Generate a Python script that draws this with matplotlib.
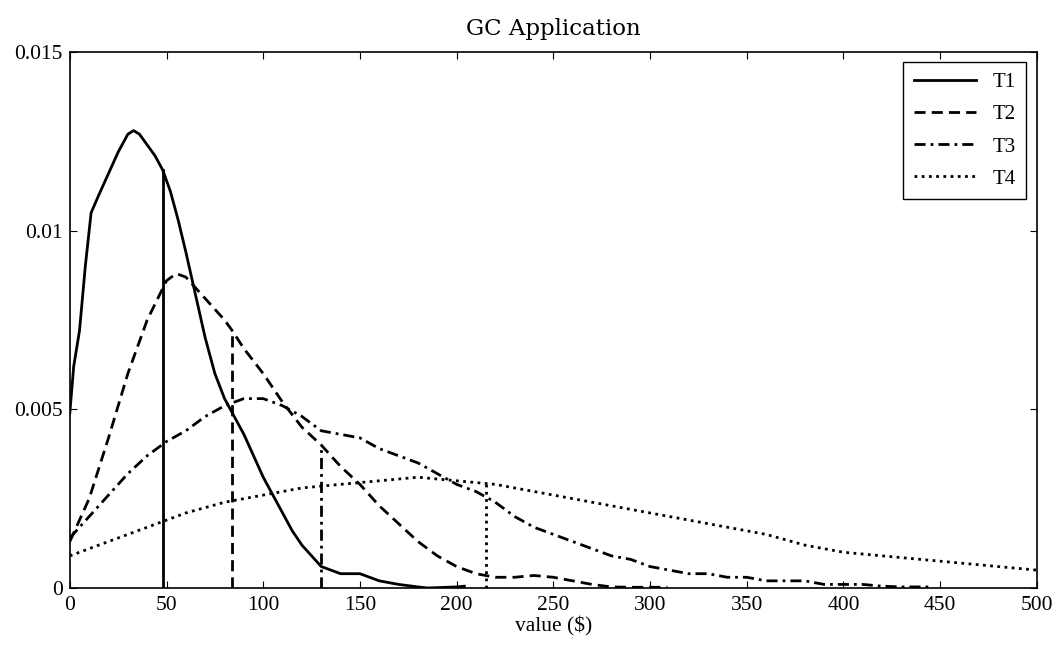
import numpy as np
import matplotlib
matplotlib.use("Agg")
import matplotlib.pyplot as plt

# density curves (value in $, density)
t1_x = [0, 2, 5, 8, 11, 15, 20, 25, 30, 33, 36, 40, 44, 48, 52, 56, 60, 65, 70, 75,
        80, 84, 90, 95, 100, 105, 110, 115, 120, 125, 130, 135, 140, 150, 155, 160,
        170, 180, 185, 190, 200, 204]
t1_y = [0.0049, 0.0062, 0.0072, 0.0090, 0.0105, 0.0110, 0.0116, 0.0122, 0.0127, 0.0128,
        0.0127, 0.0124, 0.0121, 0.0117, 0.0111, 0.0103, 0.0094, 0.0082, 0.0070, 0.0060,
        0.0053, 0.0049, 0.0043, 0.0037, 0.0031, 0.0026, 0.0021, 0.0016, 0.0012, 0.0009,
        0.0006, 0.0005, 0.0004, 0.0004, 0.0003, 0.0002, 0.0001, 0.00003, 0.0, 0.00001,
        0.00003, 0.00005]

t2_x = [0, 10, 20, 30, 40, 50, 55, 60, 70, 80, 84, 90, 100, 110, 120, 130, 140, 150,
        160, 170, 180, 190, 200, 210, 220, 230, 240, 250, 260, 270, 280, 290, 300, 309]
t2_y = [0.0013, 0.0025, 0.0042, 0.0060, 0.0075, 0.0086, 0.0088, 0.0087, 0.0081, 0.0075,
        0.0072, 0.0067, 0.0060, 0.0052, 0.0045, 0.0040, 0.0034, 0.0029, 0.0023, 0.0018,
        0.0013, 0.0009, 0.0006, 0.0004, 0.0003, 0.0003, 0.00035, 0.0003, 0.0002, 0.0001,
        0.00003, 0.00002, 0.00002, 0.00002]

t3_x = [0, 10, 20, 30, 40, 50, 60, 70, 80, 90, 100, 110, 120, 130, 140, 150, 160, 170,
        180, 190, 200, 210, 220, 230, 240, 250, 260, 270, 280, 290, 300, 310, 320, 330,
        340, 350, 360, 370, 380, 390, 400, 410, 420, 430, 446]
t3_y = [0.0014, 0.0020, 0.0026, 0.0032, 0.0037, 0.0041, 0.0044, 0.0048, 0.0051, 0.0053,
        0.0053, 0.0051, 0.0048, 0.0044, 0.0043, 0.0042, 0.0039, 0.0037, 0.0035, 0.0032,
        0.0029, 0.0027, 0.0024, 0.0020, 0.0017, 0.0015, 0.0013, 0.0011, 0.0009, 0.0008,
        0.0006, 0.0005, 0.0004, 0.0004, 0.0003, 0.0003, 0.0002, 0.0002, 0.0002, 0.0001,
        0.0001, 0.0001, 0.00005, 0.00003, 0.00003]

t4_x = [0, 20, 40, 60, 80, 100, 120, 140, 160, 180, 200, 220, 240, 260, 280, 300, 320,
        340, 360, 380, 400, 420, 440, 460, 480, 500]
t4_y = [0.0009, 0.0013, 0.0017, 0.0021, 0.0024, 0.0026, 0.0028, 0.0029, 0.0030, 0.0031,
        0.0030, 0.0029, 0.0027, 0.0025, 0.0023, 0.0021, 0.0019, 0.0017, 0.0015, 0.0012,
        0.0010, 0.0009, 0.0008, 0.0007, 0.0006, 0.0005]

# vertical markers (position, height) for each series
marker_x = [48, 84, 130, 215]
marker_h = [0.0117, 0.0072, 0.0040, 0.0029]

labels = ["T1", "T2", "T3", "T4"]

plt.rcParams['font.family'] = ['Liberation Serif', 'DejaVu Serif']

fig = plt.figure(figsize=(10.58, 6.5), dpi=100)
ax = fig.add_axes([0.066, 0.0954, 0.914, 0.8246])

styles = [
    dict(linestyle='-'),
    dict(linestyle=(0, (4, 2.2))),
    dict(linestyle=(0, (4, 1.8, 1, 1.8))),
    dict(linestyle=(0, (1, 1.6))),
]
series = [(t1_x, t1_y), (t2_x, t2_y), (t3_x, t3_y), (t4_x, t4_y)]

for (xs, ys), st, lab, mx, mh in zip(series, styles, labels, marker_x, marker_h):
    ax.plot(xs, ys, color='black', lw=2, label=lab, **st)
    ax.plot([mx, mx], [0, mh], color='black', lw=2, **st)

ax.set_xlim(0, 500)
ax.set_ylim(0, 0.015)
ax.set_xticks(np.arange(0, 501, 50))
ax.set_yticks([0, 0.005, 0.01, 0.015])
ax.set_yticklabels(['0', '0.005', '0.01', '0.015'])
ax.tick_params(direction='in', top=True, right=True, labelsize=15.5, length=5, width=0.8)
ax.tick_params(axis='x', pad=6)
ax.tick_params(axis='y', pad=5)
for s in ax.spines.values():
    s.set_linewidth(1.2)

ax.set_xlabel("value ($)", fontsize=15.5, labelpad=1)
ax.set_title("GC Application", fontsize=16.5, family=['DejaVu Serif'], pad=12)

leg = ax.legend(loc='upper right', fontsize=15, handlelength=3.0, fancybox=False,
                framealpha=1, edgecolor='black', borderaxespad=0.5, labelspacing=0.6,
                borderpad=0.5)
leg.get_frame().set_linewidth(1.0)

fig.savefig("out.png", dpi=100)
